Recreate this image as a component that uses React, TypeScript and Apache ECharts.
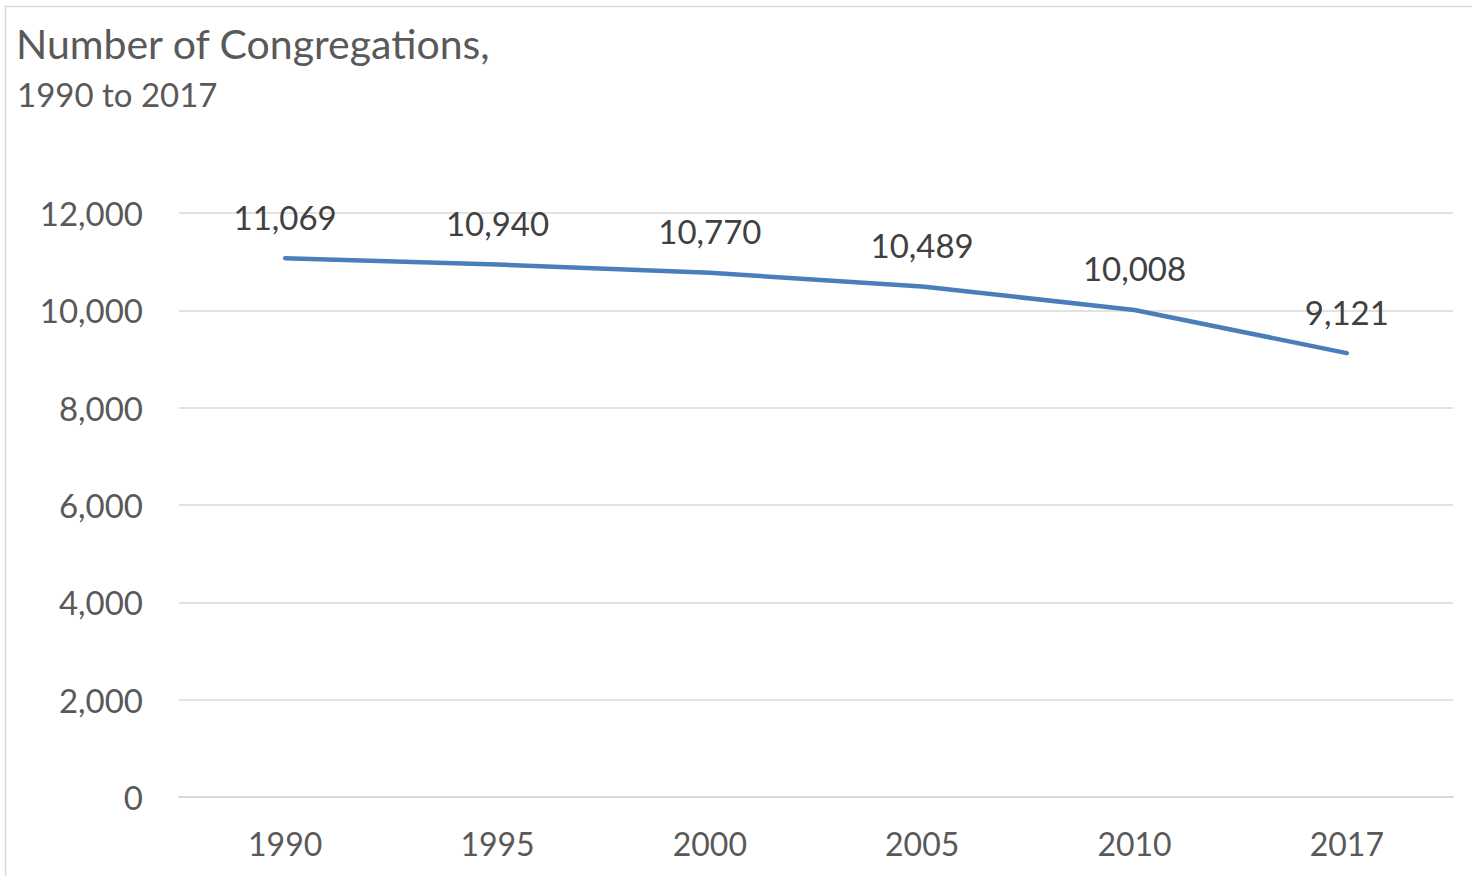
import React, { useEffect, useRef } from "react";
import * as echarts from "echarts";

const years = ["1990", "1995", "2000", "2005", "2010", "2017"];
const congregations = [11069, 10940, 10770, 10489, 10008, 9121];
const titleText = "Number of Congregations,";
const subtitleText = "1990 to 2017";

const FONT = "Lato, 'Open Sans', sans-serif";
const TEXT = "#595959";

export default function App() {
  const ref = useRef<HTMLDivElement>(null);
  useEffect(() => {
    document.body.style.margin = "0";
    const chart = echarts.init(ref.current!, undefined, { renderer: "svg" });
    chart.setOption({
      animation: false,
      backgroundColor: "#ffffff",
      textStyle: { fontFamily: FONT },
      graphic: [
        {
          type: "rect",
          shape: { x: 5.5, y: 6.5, width: 1500, height: 900 },
          style: { fill: "none", stroke: "#d9d9d9", lineWidth: 1.5 },
          silent: true,
        },
        {
          type: "text",
          left: 16,
          top: 23,
          style: { text: titleText, font: `41px ${FONT}`, fill: TEXT },
        },
        {
          type: "text",
          left: 17,
          top: 77,
          style: { text: subtitleText, font: `33px ${FONT}`, fill: TEXT },
        },
      ],
      grid: { left: 179, right: 19, top: 213, bottom: 79, containLabel: false },
      xAxis: {
        type: "category",
        data: years,
        boundaryGap: true,
        axisLine: { show: true, lineStyle: { color: "#d9d9d9", width: 2 } },
        axisTick: { show: false },
        axisLabel: { color: TEXT, fontSize: 32, fontFamily: FONT, margin: 30 },
      },
      yAxis: {
        type: "value",
        min: 0,
        max: 12000,
        interval: 2000,
        axisLine: { show: false },
        axisTick: { show: false },
        axisLabel: {
          color: TEXT,
          fontSize: 33,
          fontFamily: FONT,
          margin: 36,
          formatter: (v: number) => v.toLocaleString("en-US"),
        },
        splitLine: { lineStyle: { color: "#d9d9d9", width: 1.5 } },
      },
      series: [
        {
          type: "line",
          data: congregations,
          symbol: "circle",
          symbolSize: 2,
          showSymbol: true,
          itemStyle: { color: "rgba(0,0,0,0)", borderWidth: 0 },
          lineStyle: { color: "#4a7ebb", width: 4.5, cap: "round" },
          label: {
            show: true,
            position: "top",
            distance: 24,
            color: "#404040",
            fontSize: 33,
            fontFamily: FONT,
            formatter: (p: any) => Number(p.value).toLocaleString("en-US"),
          },
        },
      ],
    });
    return () => chart.dispose();
  }, []);
  return <div ref={ref} style={{ width: 1472, height: 876 }} />;
}
